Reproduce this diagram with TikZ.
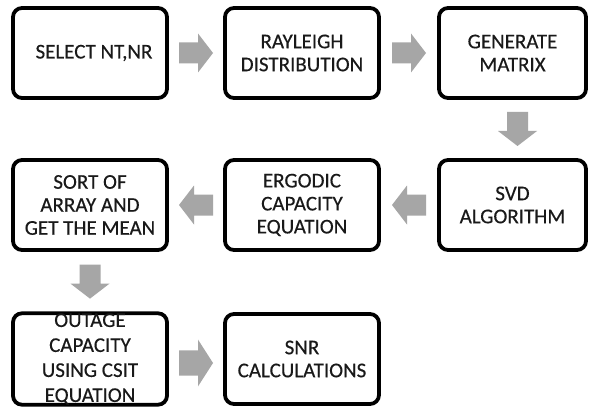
\documentclass[tikz,border=0pt]{standalone}
\usepackage{fontspec}
\setmainfont{Carlito}
\newfontfamily\boxfont{Carlito}[FakeBold=0.35]
\usetikzlibrary{calc}
\definecolor{arrowgray}{HTML}{A6A6A6}
\tikzset{
  stepbox/.style={draw=black, line width=3.8pt, rounded corners=9pt, fill=white,
    minimum height=90pt, align=center, inner sep=0pt, text=black!90,
    font=\boxfont\fontsize{21}{23}\selectfont},
  bigarrow/.pic={\fill[arrowgray] (-17,-10.5) -- (2,-10.5) -- (2,-19.5) -- (17,0)
    -- (2,19.5) -- (2,10.5) -- (-17,10.5) -- cycle;}
}
\begin{document}
\begin{tikzpicture}[x=1pt,y=1pt]
\useasboundingbox[fill=white] (0,0) rectangle (590,408);
\node[stepbox, minimum width=154pt] (b1) at (90,355) {\hspace*{8pt}SELECT NT,NR};
\node[stepbox, minimum width=154pt] (b2) at (302,355) {RAYLEIGH\\DISTRIBUTION};
\node[stepbox, minimum width=147pt] (b3) at (512.5,355) {GENERATE\\MATRIX};
\node[stepbox, minimum width=147pt] (b4) at (512.5,203) {SVD\\ALGORITHM};
\node[stepbox, minimum width=154pt] (b5) at (302,203) {ERGODIC\\CAPACITY\\EQUATION};
\node[stepbox, minimum width=154pt] (b6) at (90,203) {SORT OF\\ARRAY AND\\GET THE MEAN};
\node[stepbox, minimum width=154pt, font=\boxfont\fontsize{21}{25}\selectfont] (b7) at (90,49) {OUTAGE\\CAPACITY\\USING CSIT\\EQUATION};
\node[stepbox, minimum width=154pt] (b8) at (302,49) {SNR\\CALCULATIONS};
\pic at ($(b1.east)!0.5!(b2.west)$) {bigarrow};
\pic at ($(b2.east)!0.5!(b3.west)$) {bigarrow};
\pic[rotate=-90] at ($($(b3.south)!0.5!(b4.north)$)+(5,0)$) {bigarrow};
\pic[rotate=180] at ($(b4.west)!0.5!(b5.east)$) {bigarrow};
\pic[rotate=180] at ($(b5.west)!0.5!(b6.east)$) {bigarrow};
\pic[rotate=-90] at ($(b6.south)!0.5!(b7.north)$) {bigarrow};
\pic[yscale=1.2] at ($($(b7.east)!0.5!(b8.west)$)+(0,-4)$) {bigarrow};
\end{tikzpicture}
\end{document}
